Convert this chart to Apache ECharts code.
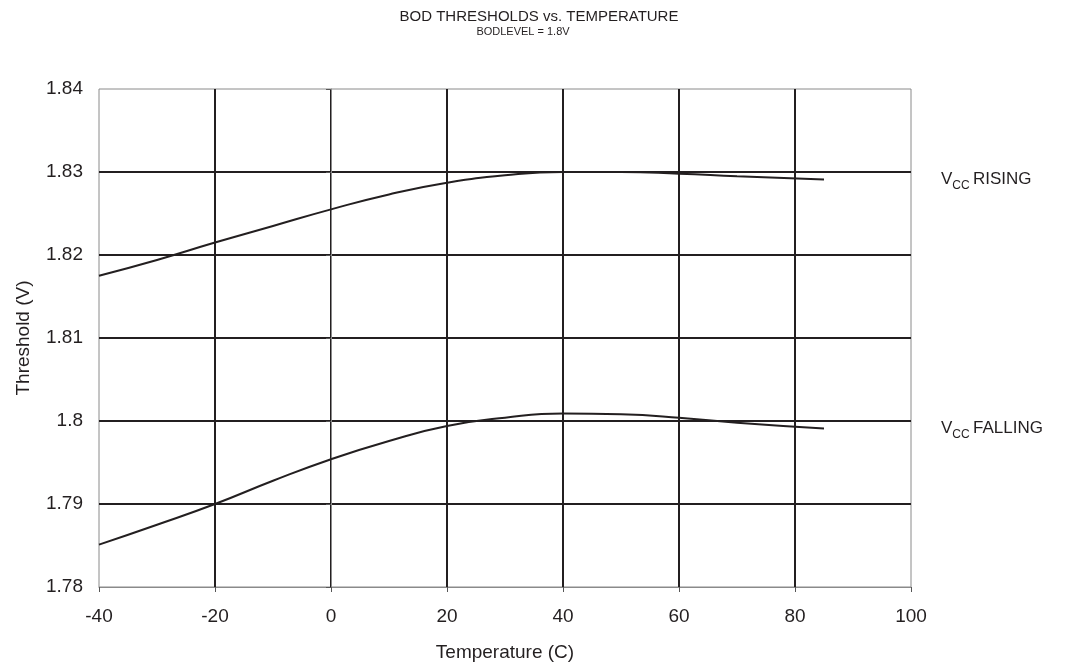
<!DOCTYPE html>
<html>
<head>
<meta charset="utf-8">
<script src="https://cdn.jsdelivr.net/npm/echarts@6/dist/echarts.min.js"></script>
<style>
html, body { margin: 0; padding: 0; background: #fff; }
#chart { width: 1068px; height: 667px; }
</style>
</head>
<body>
<div id="chart"></div>
<script>
// temperature points (C)
var temps = [-40, -30, -20, -10, 0, 10, 20, 30, 40, 50, 60, 70, 85];
// threshold (V)
var rising = [1.8175, 1.8194, 1.8215, 1.8235, 1.8255, 1.8273, 1.8287, 1.8296, 1.8300, 1.8300, 1.8298, 1.8295, 1.8291];
var falling = [1.7851, 1.7875, 1.7900, 1.7928, 1.7954, 1.7976, 1.7994, 1.8004, 1.8009, 1.8008, 1.8004, 1.7998, 1.7991];
var seriesNames = ['RISING', 'FALLING'];

var ink = '#231f20';
var edge = '#8a8a8a';
var font = 'Liberation Sans, Arial, sans-serif';

function pairs(ys) {
	return temps.map(function (t, i) { return [t, ys[i]]; });
}

var chart = echarts.init(document.getElementById('chart'));

var option = {
	backgroundColor: '#fff',
	animation: false,
	title: [
		{
			text: 'BOD THRESHOLDS vs. TEMPERATURE',
			left: 534, textAlign: 'center', top: 4,
			textStyle: { fontFamily: font, fontSize: 15, fontWeight: 'normal', color: ink }
		},
		{
			text: 'BODLEVEL = 1.8V',
			left: 518, textAlign: 'center', top: 21,
			textStyle: { fontFamily: font, fontSize: 11, fontWeight: 'normal', color: ink }
		}
	],
	grid: {
		left: 99, right: 157, top: 89, bottom: 80,
		show: true,
		borderColor: edge,
		borderWidth: 1
	},
	xAxis: {
		type: 'value',
		min: -40, max: 100, interval: 20,
		name: 'Temperature (C)',
		nameLocation: 'middle',
		nameGap: 56,
		nameTextStyle: { fontFamily: font, fontSize: 19, color: ink },
		axisLine: { lineStyle: { color: edge } },
		axisTick: { show: true, length: 5, lineStyle: { color: '#555' } },
		axisLabel: { fontFamily: font, fontSize: 19, color: ink, margin: 20 },
		splitLine: {
			show: true, showMinLine: false, showMaxLine: false,
			lineStyle: { color: ink, width: 2 }
		}
	},
	yAxis: {
		type: 'value',
		min: 1.78, max: 1.84, interval: 0.01,
		name: 'Threshold (V)',
		nameLocation: 'middle',
		nameGap: 66,
		nameTextStyle: { fontFamily: font, fontSize: 19, color: ink },
		axisLine: { show: true, lineStyle: { color: edge } },
		axisTick: { show: true, length: 5, lineStyle: { color: '#555' } },
		axisLabel: {
			fontFamily: font, fontSize: 19, color: ink, margin: 16,
			formatter: function (v) { return String(parseFloat(v.toFixed(2))); }
		},
		splitLine: {
			show: true, showMinLine: false, showMaxLine: false,
			lineStyle: { color: ink, width: 2 }
		}
	},
	series: [rising, falling].map(function (ys, i) {
		return {
			name: seriesNames[i],
			type: 'line',
			data: pairs(ys),
			smooth: 0.5,
			showSymbol: false,
			lineStyle: { color: ink, width: 2 },
			z: 5
		};
	})
};

chart.setOption(option);

// right-hand curve labels placed at their curves' levels
var labelLevels = [1.83, 1.80];
var graphics = labelLevels.map(function (lv, i) {
	var py = chart.convertToPixel({ gridIndex: 0 }, [100, lv])[1];
	return {
		type: 'text',
		left: 941,
		top: py - 1,
		style: {
			text: '{v|V}{s|CC} {t|' + seriesNames[i] + '}',
			rich: {
				v: { fontFamily: font, fontSize: 17, fill: ink, verticalAlign: 'bottom' },
				s: { fontFamily: font, fontSize: 12, fill: ink, verticalAlign: 'bottom', padding: [0, 0, -4, 0] },
				t: { fontFamily: font, fontSize: 17, fill: ink, verticalAlign: 'bottom' }
			}
		}
	};
});
chart.setOption({ graphic: graphics });
</script>
</body>
</html>
